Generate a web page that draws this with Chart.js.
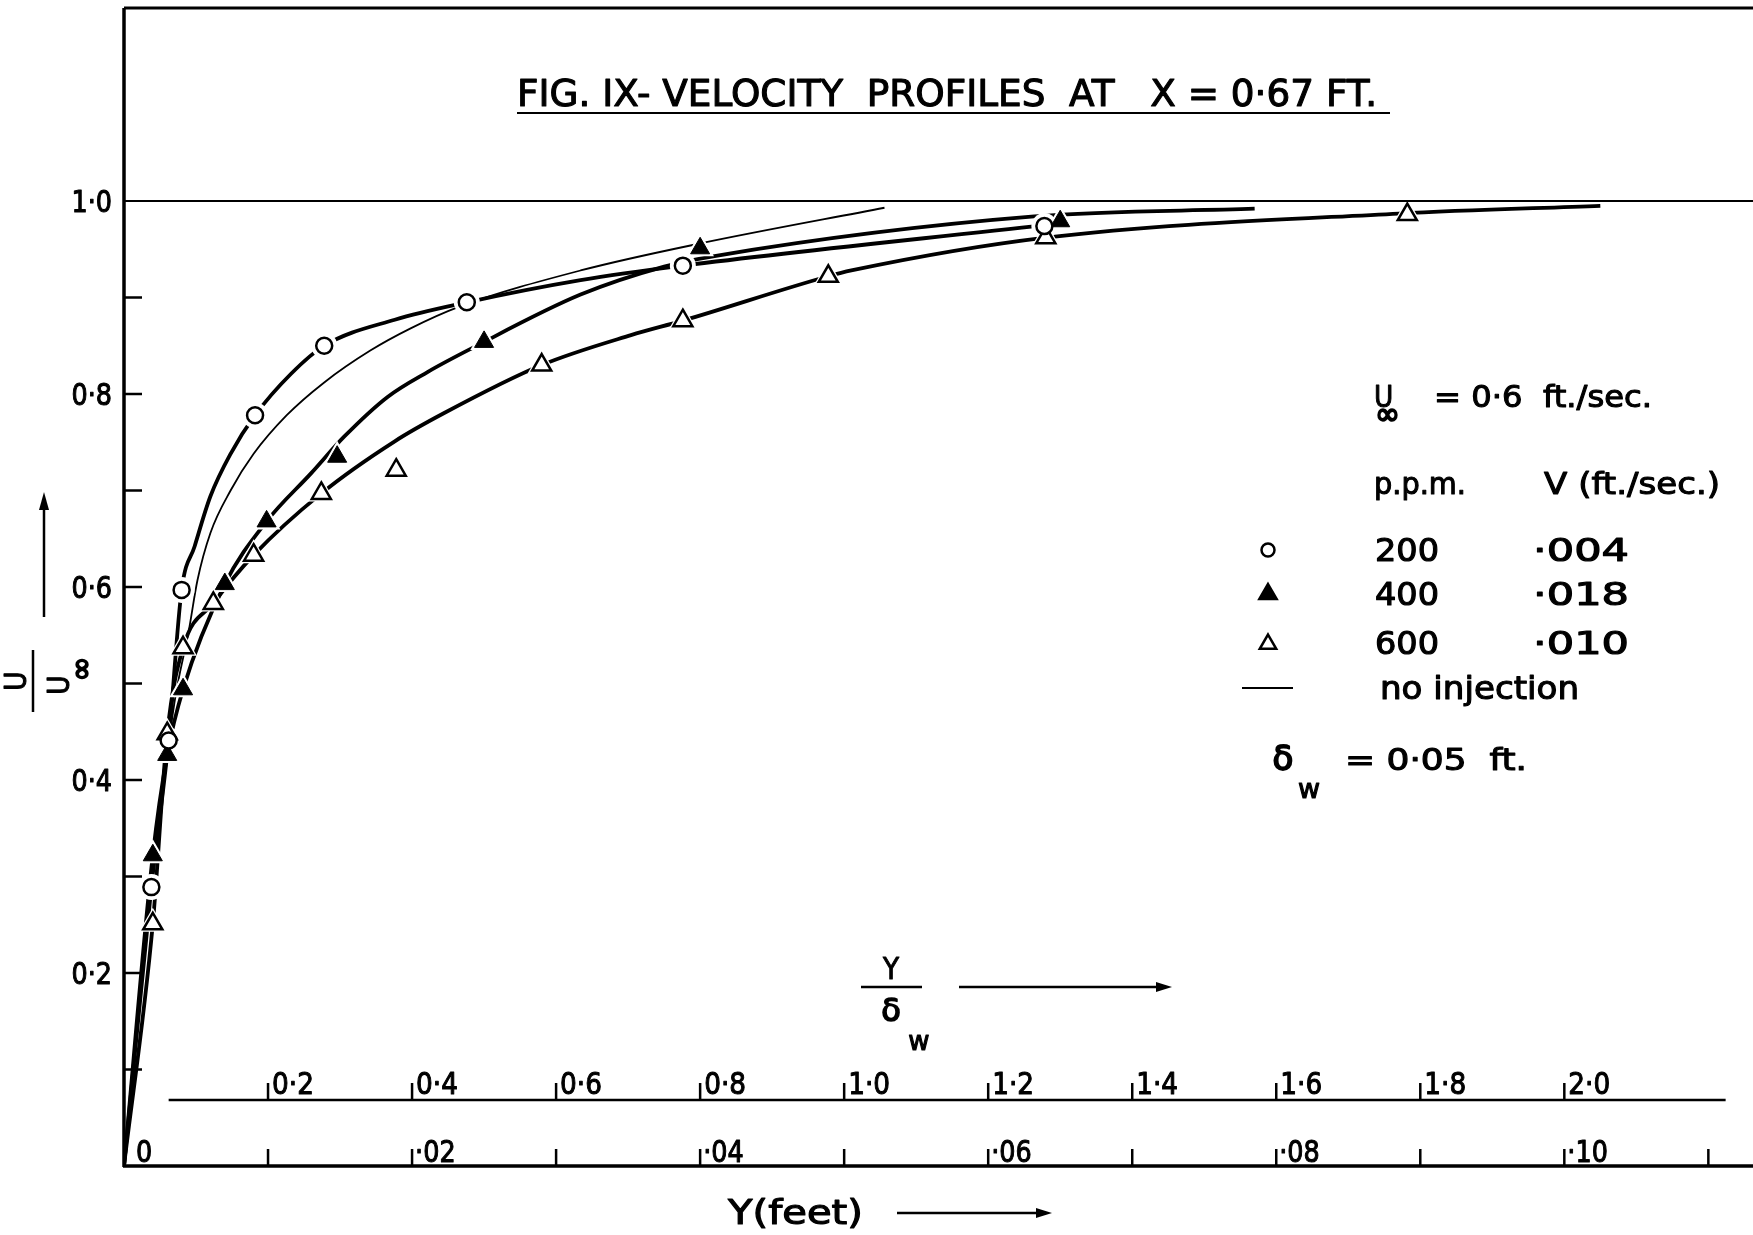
<!DOCTYPE html>
<html><head><meta charset="utf-8">
<script src="https://cdn.jsdelivr.net/npm/chart.js@4.4.1/dist/chart.umd.min.js"></script>
<style>html,body{margin:0;padding:0;background:#fff;}#wrap{width:1753px;height:1235px;}</style>
</head><body><div id="wrap"><canvas id="c" width="1753" height="1235"></canvas></div>
<script>
// ---- measured points (Y in feet, U/U_inf) ----
const circleX = [0.0019,0.0031,0.0040,0.0091,0.0139,0.0238,0.0388,0.0639];
const circleY = [0.289,0.441,0.597,0.778,0.850,0.895,0.933,0.974];
const filledX = [0.0020,0.0030,0.0041,0.0070,0.0099,0.0148,0.0250,0.0400,0.0650];
const filledY = [0.322,0.426,0.494,0.603,0.668,0.735,0.854,0.951,0.979];
const openX = [0.0020,0.0030,0.0041,0.0062,0.0090,0.0137,0.0189,0.0290,0.0388,0.0489,0.0640,0.0891];
const openY = [0.251,0.448,0.537,0.583,0.633,0.697,0.721,0.830,0.876,0.922,0.962,0.986];
// ---- hand-faired curves ----
const curve200X = [0,0.0019,0.0031,0.0040,0.0049,0.0060,0.0074,0.0091,0.0116,0.0139,0.0188,0.0238,0.0317,0.0388,0.0639];
const curve200Y = [0,0.289,0.441,0.597,0.642,0.694,0.738,0.778,0.821,0.850,0.877,0.895,0.918,0.933,0.975];
const curve400X = [0,0.0020,0.0030,0.0041,0.0070,0.0099,0.0130,0.0153,0.0183,0.0211,0.0241,0.0317,0.0375,0.0410,0.0632,0.0785];
const curve400Y = [0,0.322,0.426,0.494,0.603,0.668,0.718,0.756,0.797,0.823,0.847,0.903,0.932,0.943,0.984,0.992];
const curve600X = [0,0.0020,0.0030,0.0041,0.0062,0.0090,0.0137,0.0188,0.0222,0.0290,0.0352,0.0388,0.0489,0.0505,0.0640,0.0885,0.1025];
const curve600Y = [0,0.251,0.448,0.537,0.583,0.633,0.697,0.751,0.780,0.830,0.861,0.876,0.922,0.928,0.962,0.987,0.995];
const curveNoInjX = [0,0.0020,0.0035,0.0045,0.0051,0.0060,0.0074,0.0090,0.0113,0.0139,0.0171,0.0199,0.0232,0.0317,0.0400,0.0528];
const curveNoInjY = [0,0.300,0.480,0.555,0.607,0.656,0.700,0.738,0.778,0.812,0.845,0.868,0.890,0.928,0.956,0.993];
// ---- axes / labels ----
const yTickMarks = [0.1,0.2,0.3,0.4,0.5,0.6,0.7,0.8,0.9];
const yTickValues = [0.2,0.4,0.6,0.8,1.0];
const yTickLabels = ['0·2','0·4','0·6','0·8','1·0'];
const xTickMarks = [0.01,0.02,0.03,0.04,0.05,0.06,0.07,0.08,0.09,0.10,0.11];
const xLabelValues = [0,0.02,0.04,0.06,0.08,0.10];
const xLabels = ['0','·02','·04','·06','·08','·10'];
const deltaW = 0.05;
const ratioValues = [0.2,0.4,0.6,0.8,1.0,1.2,1.4,1.6,1.8,2.0];
const ratioLabels = ['0·2','0·4','0·6','0·8','1·0','1·2','1·4','1·6','1·8','2·0'];
const titleText = 'FIG. IX- VELOCITY  PROFILES  AT   X = 0·67 FT.';
const legendRows = [['200','·004'],['400','·018'],['600','·010']];

const pts = (xs,ys)=>xs.map((v,i)=>({x:v,y:ys[i]}));
const FONT = '"DejaVu Sans", sans-serif';

function lineDs(xs,ys,w){return {type:'scatter',data:pts(xs,ys),showLine:true,borderColor:'#000',borderWidth:w,pointRadius:0,fill:false,cubicInterpolationMode:'monotone',order:3};}
function haloDs(xs,ys,style,r){return {type:'scatter',data:pts(xs,ys),pointStyle:style,pointRadius:r,backgroundColor:'#fff',borderColor:'#fff',borderWidth:0,order:2};}
function markDs(xs,ys,style,r,fillc,bw){return {type:'scatter',data:pts(xs,ys),pointStyle:style,pointRadius:r,backgroundColor:fillc,borderColor:'#000',borderWidth:bw,order:1};}

const decor = {
  id:'decor',
  afterDraw(chart){
    const ctx = chart.ctx, xs = chart.scales.x, ys = chart.scales.y;
    const px = v=>xs.getPixelForValue(v), py = v=>ys.getPixelForValue(v);
    const line=(x1,y1,x2,y2,w)=>{ctx.beginPath();ctx.lineWidth=w;ctx.moveTo(x1,y1);ctx.lineTo(x2,y2);ctx.stroke();};
    const txt=(s,x,y,size,align,opt)=>{
      opt=opt||{};
      ctx.save();
      ctx.font=size+'px '+FONT;
      const w=ctx.measureText(s).width;
      const sc=opt.w? opt.w/w : (opt.sx||0.85);
      ctx.translate(x,y); ctx.scale(sc,1);
      ctx.textAlign=align||'left'; ctx.textBaseline='alphabetic';
      ctx.fillText(s,0,0);
      ctx.lineWidth=opt.bold||1.1; ctx.lineJoin='round'; ctx.strokeText(s,0,0);
      ctx.restore();
    };
    const arrowH=(x1,x2,y)=>{line(x1,y,x2-12,y,2.5);ctx.beginPath();ctx.moveTo(x2,y);ctx.lineTo(x2-16,y-5);ctx.lineTo(x2-16,y+5);ctx.closePath();ctx.fill();};
    ctx.save();
    ctx.strokeStyle='#000'; ctx.fillStyle='#000';
    const x0=px(0), y0=py(0), xR=px(xs.max), yT=py(ys.max);
    // frame and reference line
    line(x0,yT,x0,y0+1,3.5);
    line(x0,yT,xR,yT,3);
    line(x0-1,y0,xR,y0,3.5);
    line(x0,py(1),xR,py(1),2);
    // y ticks (inward)
    yTickMarks.forEach(v=>line(x0,py(v),x0+18,py(v),2.5));
    yTickValues.forEach((v,i)=>txt(yTickLabels[i],x0-12,py(v)+11,30,'right'));
    // bottom Y(feet) ticks
    xTickMarks.forEach(v=>line(px(v),y0,px(v),y0-17,2.5));
    xLabelValues.forEach((v,i)=>txt(xLabels[i],px(v)+(v===0?12:3),y0-4,30,'left'));
    // Y/delta_w axis
    const yr = py(0.0684);
    line(px(0.0031),yr,px(0.1112),yr,2.5);
    ratioValues.forEach((r,i)=>{const xx=px(r*deltaW);line(xx,yr,xx,yr-17,2.5);txt(ratioLabels[i],xx+4,yr-6,31,'left');});
    // title
    txt(titleText,517,106,37,'left',{w:860});
    line(517,113,1390,113,2);
    // Y/δw label
    txt('Y',891,979,31,'center');
    line(861,987,922,987,2.5);
    txt('δ',891,1021,32,'center',{sx:1,bold:1.6});
    txt('w',919,1050,26,'center',{sx:1});
    arrowH(959,1172,987);
    // Y(feet)
    txt('Y(feet)',728,1224,33,'left',{w:135});
    arrowH(897,1052,1213);
    // y-axis label: rotated fraction U / U∞
    ctx.save(); ctx.translate(33,681); ctx.rotate(-Math.PI/2);
    txt('U',0,-7,31,'center');
    line(-31,0,31,0,2.5);
    txt('U',-4,36,31,'center');
    txt('∞',12,58,30,'center',{sx:1,bold:1.8});
    ctx.restore();
    // up arrow
    line(44,617,44,508,2.5);
    ctx.beginPath();ctx.moveTo(44,492);ctx.lineTo(39,510);ctx.lineTo(49,510);ctx.closePath();ctx.fill();
    // legend block
    txt('U',1374,407,31,'left');
    txt('∞',1375,424,30,'left',{sx:1,bold:1.8});
    txt('= 0·6  ft./sec.',1434,407,31,'left',{w:218});
    txt('p.p.m.',1374,494,31,'left',{w:92});
    txt('V (ft./sec.)',1544,494,31,'left',{w:176});
    const rowY=[561,605,654];
    legendRows.forEach((r,i)=>{txt(r[0],1375,rowY[i],32,'left',{w:64});txt(r[1],1533,rowY[i],32,'left',{w:96});});
    const dp=Chart.helpers.drawPoint;
    ctx.fillStyle='#fff'; ctx.strokeStyle='#000';
    dp(ctx,{pointStyle:'circle',radius:6.5,borderWidth:2.5,rotation:0},1268,550);
    ctx.fillStyle='#000';
    dp(ctx,{pointStyle:'triangle',radius:10,borderWidth:1,rotation:0},1268,594);
    ctx.fillStyle='#fff';
    dp(ctx,{pointStyle:'triangle',radius:9.5,borderWidth:2.5,rotation:0},1268,644);
    ctx.fillStyle='#000';
    line(1242,688,1293,688,2);
    txt('no injection',1380,699,32,'left',{w:199});
    txt('δ',1283,770,34,'center',{sx:1,bold:1.8});
    txt('w',1309,798,27,'center',{sx:1});
    txt('= 0·05  ft.',1345,770,31,'left',{w:182});
    ctx.restore();
  }
};

new Chart(document.getElementById('c'),{
  type:'scatter',
  data:{datasets:[
    lineDs(curve200X,curve200Y,3.8),
    lineDs(curve400X,curve400Y,3.8),
    lineDs(curve600X,curve600Y,3.8),
    lineDs(curveNoInjX,curveNoInjY,1.8),
    haloDs(circleX,circleY,'circle',13),
    haloDs(filledX,filledY,'triangle',16),
    haloDs(openX,openY,'triangle',16),
    markDs(circleX,circleY,'circle',8,'#fff',2.5),
    markDs(filledX,filledY,'triangle',11,'#000',1),
    markDs(openX,openY,'triangle',11,'#fff',2.5)
  ]},
  options:{
    responsive:false, animation:false, devicePixelRatio:1,
    layout:{autoPadding:false,padding:{left:124,top:8,right:0,bottom:69}},
    scales:{
      x:{type:'linear',min:0,max:0.1131,display:false},
      y:{type:'linear',min:0,max:1.2,display:false}
    },
    plugins:{legend:{display:false},tooltip:{enabled:false}}
  },
  plugins:[decor]
});
</script></body></html>
